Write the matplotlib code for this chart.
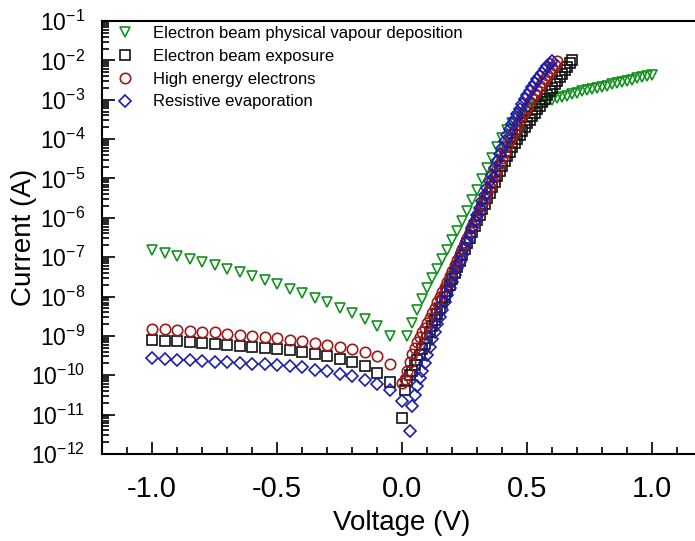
import matplotlib
matplotlib.use('Agg')
import matplotlib.pyplot as plt
import numpy as np
from matplotlib.ticker import MultipleLocator, LogLocator, FuncFormatter

plt.rcParams['font.family'] = ['Liberation Sans', 'DejaVu Sans']
plt.rcParams['mathtext.fontset'] = 'custom'
plt.rcParams['mathtext.rm'] = 'Liberation Sans'
plt.rcParams['axes.unicode_minus'] = False

# reverse bias sweep, shared by all four samples
v_rev = [-1.00, -0.95, -0.90, -0.85, -0.80, -0.75, -0.70, -0.65, -0.60, -0.55,
         -0.50, -0.45, -0.40, -0.35, -0.30, -0.25, -0.20, -0.15, -0.10, -0.05]

# forward sweep (0.01 V steps) for black/red/blue, 0.02 V steps for green
v_fwd = [0.00, 0.01, 0.02, 0.03, 0.04, 0.05, 0.06, 0.07, 0.08, 0.09,
         0.10, 0.11, 0.12, 0.13, 0.14, 0.15, 0.16, 0.17, 0.18, 0.19,
         0.20, 0.21, 0.22, 0.23, 0.24, 0.25, 0.26, 0.27, 0.28, 0.29,
         0.30, 0.31, 0.32, 0.33, 0.34, 0.35, 0.36, 0.37, 0.38, 0.39,
         0.40, 0.41, 0.42, 0.43, 0.44, 0.45, 0.46, 0.47, 0.48, 0.49,
         0.50, 0.51, 0.52, 0.53, 0.54, 0.55, 0.56, 0.57, 0.58, 0.59,
         0.60, 0.61, 0.62, 0.63, 0.64, 0.65, 0.66, 0.67, 0.68]
v_fwd_green = [0.02, 0.04, 0.06, 0.08, 0.10, 0.12, 0.14, 0.16, 0.18, 0.20,
               0.22, 0.24, 0.26, 0.28, 0.30, 0.32, 0.34, 0.36, 0.38, 0.40,
               0.42, 0.44, 0.46, 0.48, 0.50, 0.52, 0.54, 0.56, 0.58, 0.60,
               0.62, 0.64, 0.66, 0.68, 0.70, 0.72, 0.74, 0.76, 0.78, 0.80,
               0.82, 0.84, 0.86, 0.88, 0.90, 0.92, 0.94, 0.96, 0.98, 1.00]

# log10(current / A)
ebpvd_rev = [-6.81, -6.90, -6.96, -7.04, -7.12, -7.19, -7.29, -7.38, -7.49, -7.59,
             -7.68, -7.80, -7.91, -8.04, -8.15, -8.29, -8.42, -8.57, -8.76, -9.00]
ebpvd_fwd = [-9.01, -8.67, -8.35, -8.06, -7.79, -7.54, -7.29, -7.05, -6.81, -6.57,
             -6.33, -6.08, -5.83, -5.56, -5.29, -5.02, -4.74, -4.47, -4.21, -3.97,
             -3.76, -3.58, -3.44, -3.33, -3.25, -3.19, -3.14, -3.09, -3.05, -3.00,
             -2.96, -2.93, -2.90, -2.86, -2.83, -2.79, -2.76, -2.73, -2.70, -2.67,
             -2.64, -2.61, -2.58, -2.55, -2.52, -2.49, -2.46, -2.43, -2.40, -2.36]

ebe_rev = [-9.10, -9.12, -9.14, -9.16, -9.19, -9.21, -9.23, -9.25, -9.27, -9.30,
           -9.32, -9.37, -9.41, -9.46, -9.52, -9.59, -9.67, -9.76, -9.93, -10.18]
ebe_fwd = [-11.08, -10.38, -10.15, -10.00, -9.88, -9.75, -9.62, -9.48, -9.34, -9.20,
           -9.05, -8.90, -8.75, -8.60, -8.45, -8.30, -8.15, -8.00, -7.85, -7.70,
           -7.55, -7.40, -7.25, -7.10, -6.95, -6.80, -6.65, -6.50, -6.35, -6.20,
           -6.06, -5.92, -5.78, -5.64, -5.50, -5.36, -5.22, -5.08, -4.95, -4.82,
           -4.69, -4.56, -4.44, -4.32, -4.21, -4.10, -3.99, -3.89, -3.79, -3.69,
           -3.60, -3.51, -3.42, -3.33, -3.24, -3.15, -3.06, -2.97, -2.88, -2.79,
           -2.70, -2.61, -2.52, -2.43, -2.34, -2.25, -2.16, -2.07, -1.98]

hee_rev = [-8.82, -8.83, -8.84, -8.87, -8.89, -8.91, -8.94, -8.97, -8.99, -9.03,
           -9.05, -9.10, -9.14, -9.18, -9.23, -9.28, -9.33, -9.41, -9.52, -9.71]
hee_fwd = [-10.19, -10.10, -9.88, -9.67, -9.47, -9.30, -9.16, -9.03, -8.91, -8.79,
           -8.66, -8.54, -8.41, -8.28, -8.15, -8.02, -7.89, -7.76, -7.62, -7.48,
           -7.34, -7.20, -7.06, -6.92, -6.78, -6.64, -6.50, -6.36, -6.22, -6.08,
           -5.94, -5.80, -5.66, -5.52, -5.37, -5.22, -5.07, -4.92, -4.77, -4.62,
           -4.47, -4.32, -4.17, -4.03, -3.90, -3.77, -3.64, -3.52, -3.40, -3.29,
           -3.18, -3.07, -2.96, -2.86, -2.76, -2.66, -2.56, -2.47, -2.38, -2.29,
           -2.20, -2.11, -2.02]

res_rev = [-9.56, -9.59, -9.60, -9.62, -9.65, -9.66, -9.67, -9.69, -9.71, -9.72,
           -9.75, -9.77, -9.80, -9.86, -9.90, -9.96, -10.03, -10.11, -10.21, -10.38]
res_fwd = [-10.66, np.nan, np.nan, -11.42, -10.79, -10.50, -10.28, -10.08, -9.88, -9.68,
           -9.48, -9.28, -9.08, -8.89, -8.70, -8.51, -8.33, -8.15, -7.97, -7.79,
           -7.62, -7.45, -7.28, -7.11, -6.94, -6.77, -6.60, -6.43, -6.26, -6.09,
           -5.92, -5.75, -5.58, -5.41, -5.24, -5.07, -4.90, -4.73, -4.56, -4.39,
           -4.22, -4.06, -3.90, -3.75, -3.61, -3.48, -3.35, -3.23, -3.11, -2.99,
           -2.88, -2.77, -2.67, -2.57, -2.48, -2.39, -2.31, -2.23, -2.15, -2.08,
           -2.02]

labels = ['Electron beam physical vapour deposition', 'Electron beam exposure',
          'High energy electrons', 'Resistive evaporation']
colors = ['#14901e', '#111111', '#9e1a1a', '#1c1ca8']

fig = plt.figure(figsize=(6.95, 5.41), dpi=100)
ax = fig.add_axes([102/695, 87/541, 600/695, 433/541])


def series(v_r, y_r, v_f, y_f):
    v = np.concatenate([v_r, v_f[:len(y_f)]])
    y = np.concatenate([y_r, y_f])
    return v, 10.0 ** y


style = dict(linestyle='none', markerfacecolor='none', markeredgewidth=1.2)
x, y = series(v_rev, ebpvd_rev, v_fwd_green, ebpvd_fwd)
h1, = ax.plot(x, y, 'v', color=colors[0], markersize=7.5, label=labels[0], **style)
x, y = series(v_rev, ebe_rev, v_fwd, ebe_fwd)
h2, = ax.plot(x, y, 's', color=colors[1], markersize=6.5, label=labels[1], **style)
x, y = series(v_rev, hee_rev, v_fwd, hee_fwd)
h3, = ax.plot(x, y, 'o', color=colors[2], markersize=7.5, label=labels[2], **style)
x, y = series(v_rev, res_rev, v_fwd, res_fwd)
h4, = ax.plot(x, y, 'D', color=colors[3], markersize=6.0, label=labels[3], **style)

ax.set_yscale('log')
ax.set_xlim(-1.2, 1.2)
ax.set_ylim(1e-12, 1e-1)

ax.xaxis.set_major_locator(MultipleLocator(0.5))
ax.xaxis.set_minor_locator(MultipleLocator(0.1))
ax.xaxis.set_major_formatter(FuncFormatter(lambda v, p: f'{v:.1f}'))
ax.yaxis.set_major_locator(LogLocator(base=10, numticks=20))
ax.yaxis.set_minor_locator(LogLocator(base=10, subs=np.arange(2, 10), numticks=20))
ax.yaxis.set_major_formatter(FuncFormatter(
    lambda v, p: r'$\mathregular{10^{%d}}$' % round(np.log10(v))))

ax.tick_params(which='both', direction='in', top=False, right=False, width=1.2,
               colors='black')
ax.tick_params(which='major', length=9)
ax.tick_params(which='minor', length=5)
ax.tick_params(axis='x', which='major', labelsize=21, pad=15)
ax.tick_params(axis='y', which='major', labelsize=16.5, pad=12)
for side in ['left', 'bottom', 'top']:
    ax.spines[side].set_linewidth(1.5)
ax.spines['right'].set_visible(False)

ax.set_xlabel('Voltage (V)', fontsize=20, labelpad=5)
ax.set_ylabel('Current (A)', fontsize=20, labelpad=-4)

ax.legend(handles=[h1, h2, h3, h4], loc='upper left', frameon=False, fontsize=12,
          numpoints=1, handlelength=1.0, handletextpad=1.15, labelspacing=0.465,
          borderpad=0, borderaxespad=0, bbox_to_anchor=(0.0245, 0.988))

fig.savefig('out.png', dpi=100)
